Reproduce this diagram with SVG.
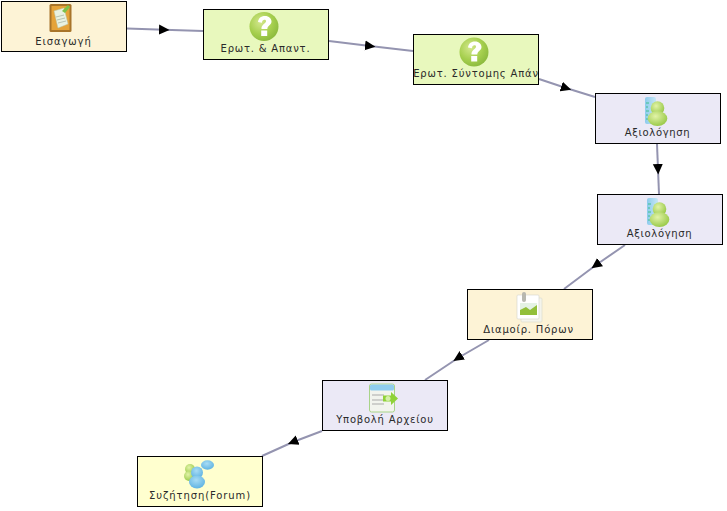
<svg xmlns="http://www.w3.org/2000/svg" width="727" height="511" viewBox="0 0 727 511">
<style>
.n{stroke:#000;stroke-width:1}
.y{fill:#fdf3d6}.g{fill:#e8f8bd}.b{fill:#ebe9f6}.f{fill:#ffffcf}
.t{font-family:"DejaVu Sans","Liberation Sans",sans-serif;font-size:10px;fill:#2a2a2a;text-anchor:middle}
.c{fill:none;stroke:#9494b0;stroke-width:2;marker-mid:url(#a)}
</style>
<defs>
<marker id="a" markerUnits="userSpaceOnUse" markerWidth="12" markerHeight="12" refX="5" refY="6" orient="auto"><path d="M0 1L10.500 6L0 11Z" fill="#000"/></marker>
<radialGradient id="q" cx=".38" cy=".35" r=".75"><stop offset="0" stop-color="#d4e88e"/><stop offset=".55" stop-color="#a6cf4e"/><stop offset="1" stop-color="#86b53a"/></radialGradient>
<radialGradient id="gp" cx=".4" cy=".35" r=".75"><stop offset="0" stop-color="#e2f3a8"/><stop offset="1" stop-color="#90c43c"/></radialGradient>
<radialGradient id="bp" cx=".45" cy=".35" r=".75"><stop offset="0" stop-color="#a8dcf4"/><stop offset="1" stop-color="#54ade0"/></radialGradient>
<linearGradient id="bar" x1="0" x2="1" y1="0" y2="0"><stop offset="0" stop-color="#8ccbec"/><stop offset="1" stop-color="#c6e6f6"/></linearGradient>
<g id="question"><circle r="14.500" fill="url(#q)"/><path d="M-6-4.500C-5.500-9 -2-10.500 1-10.500C5-10.500 7.500-8 7.500-5C7.500-1.500 3.500-1 3.300 2.500L-2.500 2.500C-3-2 2-3 2-5.300C2-7.300-2-7.300-2-3.800Z" fill="#fff"/><rect x="-2.800" y="4" width="6" height="5.500" fill="#fff"/></g>
<g id="eval"><rect x="0" y="0" width="11" height="27" rx="2" fill="url(#bar)"/><path d="M1 6h3M1 10h2M1 14h3M1 18h2M1 22h3" stroke="#3fc08e" stroke-width="1"/><circle cx="12.500" cy="11" r="6.800" fill="url(#gp)"/><ellipse cx="12.500" cy="21.500" rx="9.800" ry="7.500" fill="url(#gp)"/></g>
</defs>
<g id="connectors">
<path class="c" d="M127 28.500L164 29.700L203 31"/>
<path class="c" d="M329 41L370 46L413 51"/>
<path class="c" d="M539 79L566 88L595 97"/>
<path class="c" d="M657 144L658 169L659 194"/>
<path class="c" d="M625 245L596 265L564 289"/>
<path class="c" d="M489 340L458 358L425 380"/>
<path class="c" d="M322 431L293 442L262 456"/>
</g>
<g id="n1"><rect class="n y" x="1.500" y="1.500" width="125" height="50"/>
<rect x="49.500" y="4" width="22" height="28" rx="1.500" fill="#a8742a"/><rect x="51.500" y="6" width="18" height="24" fill="#e5a33a"/><path d="M54 11L64 8L68 24L58 28Z" fill="#e9f2e2" stroke="#b8c8b0" stroke-width=".5"/><path d="M56 17L64 15M57 20L65 18M58 23L66 21" stroke="#a9b8a8" stroke-width=".8"/><path d="M62 11L68 5L70 7L65 13Z" fill="#7dc24a"/>
<text class="t" x="63.500" y="45" letter-spacing=".9">Εισαγωγή</text></g>
<g id="n2"><rect class="n g" x="203.500" y="9.500" width="125" height="50"/><use href="#question" x="264" y="26.500"/>
<text class="t" x="265.500" y="52" letter-spacing=".8">Ερωτ. &amp; Απαντ.</text></g>
<g id="n3"><rect class="n g" x="413.500" y="34.500" width="125" height="50"/><use href="#question" x="474" y="52"/>
<text class="t" x="476" y="77" letter-spacing=".82">Ερωτ. Σύντομης Απάν</text></g>
<g id="n4"><rect class="n b" x="595.500" y="93.500" width="125" height="50"/><use href="#eval" x="645" y="97"/>
<text class="t" x="657.500" y="136" letter-spacing=".65">Αξιολόγηση</text></g>
<g id="n5"><rect class="n b" x="597.500" y="194.500" width="125" height="50"/><use href="#eval" x="647" y="198"/>
<text class="t" x="659.500" y="237" letter-spacing=".65">Αξιολόγηση</text></g>
<g id="n6"><rect class="n y" x="467.500" y="289.500" width="125" height="50"/>
<rect x="521" y="298" width="21" height="24" fill="#f4f4ec" stroke="#dcdccc" stroke-width=".7" rx="1"/><rect x="517" y="295" width="22" height="24" fill="#fff" stroke="#d8d8d0" stroke-width=".7" rx="1"/><rect x="520" y="303" width="17" height="12" fill="#e4f2e4"/><path d="M520 315L520 310L526 307L530 310L537 305V315Z" fill="#92bf3a"/><rect x="522" y="292" width="4" height="10" rx="2" fill="#b8b8b0"/>
<text class="t" x="528.500" y="333" letter-spacing=".8">Διαμοίρ. Πόρων</text></g>
<g id="n7"><rect class="n b" x="322.500" y="380.500" width="125" height="50"/>
<rect x="369.500" y="384" width="25" height="28" rx="2" fill="#f2f4ee" stroke="#a8d488"/><rect x="370" y="384.500" width="24" height="6" rx="1.500" fill="#8fcdee"/><path d="M372 395h12M372 400h12M372 404h12" stroke="#aaaaaa"/><path d="M383 395.500H391V392L398 398.500L391 405V401.500H383Z" fill="#8fd238"/><circle cx="388" cy="398.500" r="2.500" fill="#d4f0a8"/>
<text class="t" x="385" y="423" letter-spacing=".78">Υποβολή Αρχείου</text></g>
<g id="n8"><rect class="n f" x="137.500" y="456.500" width="125" height="50"/>
<circle cx="190" cy="469" r="5" fill="url(#gp)"/><circle cx="189" cy="476" r="5" fill="url(#gp)"/><ellipse cx="207.500" cy="465" rx="6.500" ry="4.700" fill="url(#bp)"/><circle cx="197" cy="472.500" r="6" fill="url(#bp)"/><ellipse cx="197" cy="482" rx="8" ry="6.500" fill="url(#bp)"/>
<text class="t" x="200" y="499" letter-spacing=".9">Συζήτηση(Forum)</text></g>
</svg>
